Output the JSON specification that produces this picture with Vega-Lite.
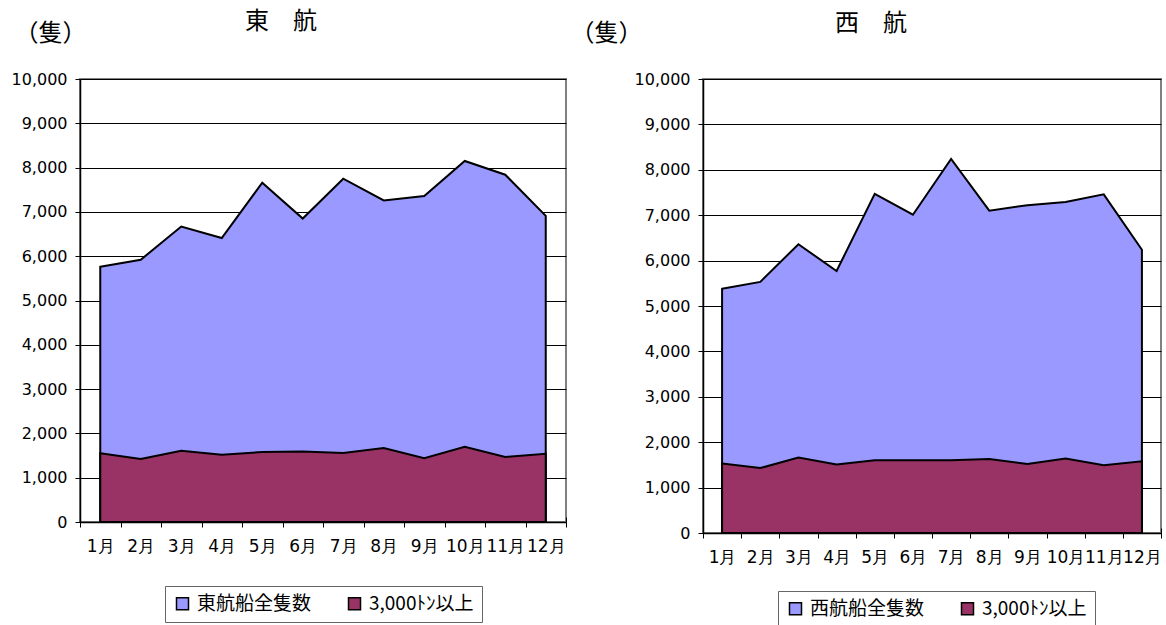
{
  "$schema": "https://vega.github.io/schema/vega-lite/v6.json",
  "background": "white",
  "padding": {"left": 10, "top": 9, "right": 0, "bottom": 0},
  "spacing": 1,
  "config": {
    "font": "Noto Sans CJK JP",
    "view": {"stroke": "#808080", "strokeWidth": 2},
    "axisX": {
      "labelFont": "DejaVu Sans", "labelFontSize": 17, "labelColor": "black", "labelAngle": 0,
      "labelOverlap": false, "labelPadding": 11, "tickSize": 5, "tickColor": "black", "tickWidth": 1,
      "domainColor": "black", "domainWidth": 1.5, "grid": false, "tickBand": "extent", "title": null
    },
    "axisY": {
      "labelFont": "DejaVu Sans", "labelFontSize": 16, "labelColor": "black", "labelPadding": 8,
      "tickSize": 5, "tickColor": "black", "domainColor": "black", "domainWidth": 1.5,
      "grid": true, "gridColor": "black", "gridOpacity": 1, "gridWidth": 1
    },
    "legend": {
      "orient": "none", "direction": "horizontal", "title": null, "strokeColor": "#666666",
      "fillColor": "white", "padding": 8, "symbolType": "square", "symbolSize": 144,
      "symbolStrokeColor": "black", "symbolStrokeWidth": 1.5, "symbolOpacity": 1,
      "labelFont": "Noto Sans CJK JP", "labelFontSize": 19, "labelColor": "black",
      "labelOffset": 5, "columnPadding": 33, "labelLimit": 300
    }
  },
  "datasets": {
    "east": [
      {"month": "1月", "series": "東航船全隻数", "value": 5760},
      {"month": "2月", "series": "東航船全隻数", "value": 5920},
      {"month": "3月", "series": "東航船全隻数", "value": 6670},
      {"month": "4月", "series": "東航船全隻数", "value": 6410},
      {"month": "5月", "series": "東航船全隻数", "value": 7660},
      {"month": "6月", "series": "東航船全隻数", "value": 6850},
      {"month": "7月", "series": "東航船全隻数", "value": 7750},
      {"month": "8月", "series": "東航船全隻数", "value": 7260},
      {"month": "9月", "series": "東航船全隻数", "value": 7360},
      {"month": "10月", "series": "東航船全隻数", "value": 8150},
      {"month": "11月", "series": "東航船全隻数", "value": 7840},
      {"month": "12月", "series": "東航船全隻数", "value": 6910},
      {"month": "1月", "series": "3,000ﾄﾝ以上", "value": 1550},
      {"month": "2月", "series": "3,000ﾄﾝ以上", "value": 1420},
      {"month": "3月", "series": "3,000ﾄﾝ以上", "value": 1610},
      {"month": "4月", "series": "3,000ﾄﾝ以上", "value": 1520},
      {"month": "5月", "series": "3,000ﾄﾝ以上", "value": 1580},
      {"month": "6月", "series": "3,000ﾄﾝ以上", "value": 1590},
      {"month": "7月", "series": "3,000ﾄﾝ以上", "value": 1560},
      {"month": "8月", "series": "3,000ﾄﾝ以上", "value": 1670},
      {"month": "9月", "series": "3,000ﾄﾝ以上", "value": 1440},
      {"month": "10月", "series": "3,000ﾄﾝ以上", "value": 1700},
      {"month": "11月", "series": "3,000ﾄﾝ以上", "value": 1470},
      {"month": "12月", "series": "3,000ﾄﾝ以上", "value": 1540}
    ],
    "west": [
      {"month": "1月", "series": "西航船全隻数", "value": 5380},
      {"month": "2月", "series": "西航船全隻数", "value": 5530},
      {"month": "3月", "series": "西航船全隻数", "value": 6360},
      {"month": "4月", "series": "西航船全隻数", "value": 5770},
      {"month": "5月", "series": "西航船全隻数", "value": 7470},
      {"month": "6月", "series": "西航船全隻数", "value": 7010},
      {"month": "7月", "series": "西航船全隻数", "value": 8240},
      {"month": "8月", "series": "西航船全隻数", "value": 7100},
      {"month": "9月", "series": "西航船全隻数", "value": 7220},
      {"month": "10月", "series": "西航船全隻数", "value": 7290},
      {"month": "11月", "series": "西航船全隻数", "value": 7460},
      {"month": "12月", "series": "西航船全隻数", "value": 6240},
      {"month": "1月", "series": "3,000ﾄﾝ以上", "value": 1530},
      {"month": "2月", "series": "3,000ﾄﾝ以上", "value": 1430},
      {"month": "3月", "series": "3,000ﾄﾝ以上", "value": 1660},
      {"month": "4月", "series": "3,000ﾄﾝ以上", "value": 1510},
      {"month": "5月", "series": "3,000ﾄﾝ以上", "value": 1600},
      {"month": "6月", "series": "3,000ﾄﾝ以上", "value": 1600},
      {"month": "7月", "series": "3,000ﾄﾝ以上", "value": 1600},
      {"month": "8月", "series": "3,000ﾄﾝ以上", "value": 1630},
      {"month": "9月", "series": "3,000ﾄﾝ以上", "value": 1520},
      {"month": "10月", "series": "3,000ﾄﾝ以上", "value": 1640},
      {"month": "11月", "series": "3,000ﾄﾝ以上", "value": 1490},
      {"month": "12月", "series": "3,000ﾄﾝ以上", "value": 1580}
    ]
  },
  "hconcat": [
    {
      "width": 486,
      "height": 443,
      "data": {"name": "east"},
      "title": {"text": "東　航", "font": "Noto Sans CJK JP", "fontSize": 24, "fontWeight": "normal", "color": "black", "anchor": "middle", "frame": "group", "dx": -42, "offset": -13},
      "layer": [
        {
          "transform": [{"filter": {"field": "series", "equal": "東航船全隻数"}}],
          "mark": {"type": "area", "stroke": "black", "strokeWidth": 2, "strokeJoin": "miter", "opacity": 1},
          "encoding": {
            "x": {"field": "month", "type": "ordinal", "sort": null, "bandPosition": 0.5, "scale": {"type": "band", "paddingInner": 0, "paddingOuter": 0}},
            "y": {"field": "value", "type": "quantitative", "scale": {"domain": [0, 10000], "nice": false},
              "axis": {"values": [0, 1000, 2000, 3000, 4000, 5000, 6000, 7000, 8000, 9000, 10000], "format": ",d",
                "title": "（隻）", "titleAngle": 0, "titleX": -66, "titleY": -46, "titleAlign": "left", "titleBaseline": "middle",
                "titleFont": "Noto Sans CJK JP", "titleFontSize": 24, "titleFontWeight": "normal", "titleColor": "black"}},
            "color": {"field": "series", "type": "nominal", "scale": {"domain": ["東航船全隻数", "3,000ﾄﾝ以上"], "range": ["#9999FF", "#993366"]},
              "legend": {"legendX": 85, "legendY": 507}}
          }
        },
        {
          "transform": [{"filter": {"field": "series", "equal": "3,000ﾄﾝ以上"}}],
          "mark": {"type": "area", "stroke": "black", "strokeWidth": 2, "strokeJoin": "miter", "opacity": 1},
          "encoding": {
            "x": {"field": "month", "type": "ordinal", "sort": null, "bandPosition": 0.5, "axis": {"orient": "bottom", "labels": false, "domain": false, "tickSize": -5}},
            "y": {"field": "value", "type": "quantitative", "scale": {"domain": [0, 10000], "nice": false}},
            "color": {"field": "series", "type": "nominal"}
          }
        }
      ],
      "resolve": {"axis": {"x": "independent"}}
    },
    {
      "width": 458,
      "height": 454,
      "data": {"name": "west"},
      "title": {"text": "西　航", "font": "Noto Sans CJK JP", "fontSize": 24, "fontWeight": "normal", "color": "black", "anchor": "middle", "frame": "group", "dx": -61, "offset": -15},
      "layer": [
        {
          "transform": [{"filter": {"field": "series", "equal": "西航船全隻数"}}],
          "mark": {"type": "area", "stroke": "black", "strokeWidth": 2, "strokeJoin": "miter", "opacity": 1},
          "encoding": {
            "x": {"field": "month", "type": "ordinal", "sort": null, "bandPosition": 0.5, "scale": {"type": "band", "paddingInner": 0, "paddingOuter": 0}},
            "y": {"field": "value", "type": "quantitative", "scale": {"domain": [0, 10000], "nice": false},
              "axis": {"values": [0, 1000, 2000, 3000, 4000, 5000, 6000, 7000, 8000, 9000, 10000], "format": ",d",
                "title": "（隻）", "titleAngle": 0, "titleX": -133, "titleY": -46, "titleAlign": "left", "titleBaseline": "middle",
                "titleFont": "Noto Sans CJK JP", "titleFontSize": 24, "titleFontWeight": "normal", "titleColor": "black"}},
            "color": {"field": "series", "type": "nominal", "scale": {"domain": ["西航船全隻数", "3,000ﾄﾝ以上"], "range": ["#9999FF", "#993366"]},
              "legend": {"legendX": 75, "legendY": 512}}
          }
        },
        {
          "transform": [{"filter": {"field": "series", "equal": "3,000ﾄﾝ以上"}}],
          "mark": {"type": "area", "stroke": "black", "strokeWidth": 2, "strokeJoin": "miter", "opacity": 1},
          "encoding": {
            "x": {"field": "month", "type": "ordinal", "sort": null, "bandPosition": 0.5, "axis": {"orient": "bottom", "labels": false, "domain": false, "tickSize": -5}},
            "y": {"field": "value", "type": "quantitative", "scale": {"domain": [0, 10000], "nice": false}},
            "color": {"field": "series", "type": "nominal"}
          }
        }
      ],
      "resolve": {"axis": {"x": "independent"}}
    }
  ],
  "resolve": {"scale": {"color": "independent", "x": "independent", "y": "independent"}}
}
